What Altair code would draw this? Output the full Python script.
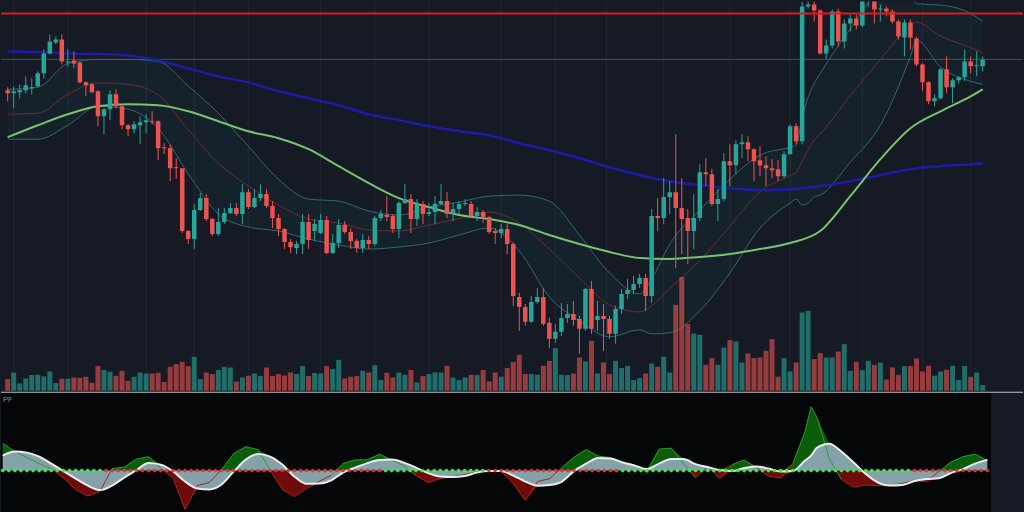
import altair as alt
import pandas as pd

# ---------------- candle data (arbitrary price units) ----------------
open_ = [311,308,309,311,313,315,328,348,359,362, 339,341,339,319,317,310,285,292,307,295,
         276,272,276,279,280,280,254,253,234,233, 170,162,191,203,182,167,179,188,193,187,
         209,194,203,207,195,183,172,159,153,157, 179,170,168,181,148,158,176,169,160,153,
         161,157,183,186,185,172,198,202,182,197, 187,189,197,200,187,192,197,197,185,189,
         184,170,168,172,157,104,94,79,99,104, 78,62,69,83,87,82,72,112,81,85,
         82,67,92,107,111,117,123,105,185,183, 204,209,193,183,170,183,229,227,197,202,
         240,236,257,259,252,241,236,233,232,225, 247,275,260,395,397,391,348,356,390,360,
         378,383,376,401,404,392,393,390,380,364, 379,363,337,319,300,303,332,314,321,324,
         340,335,335]
high_ = [314,315,317,325,323,330,352,367,365,367, 352,350,340,320,318,311,293,311,312,297,
         277,280,285,287,290,281,258,257,243,233, 171,197,208,207,183,193,193,198,198,217,
         212,212,217,212,200,187,173,162,160,187, 187,182,187,185,167,182,180,173,162,167,
         165,185,191,205,187,200,217,207,202,200, 198,205,217,209,198,200,202,200,194,191,
         185,173,177,177,159,108,97,105,113,113, 83,77,98,97,100,85,113,120,100,97,
         85,95,112,122,125,127,127,192,203,223, 220,267,223,192,207,237,243,232,212,248,
         257,261,267,265,253,255,245,242,241,250, 277,278,400,403,402,392,362,392,393,382,
         387,387,408,410,408,397,395,392,382,382, 382,365,338,320,307,333,345,323,325,352,
         345,350,345]
low_ = [300,293,303,308,307,314,323,347,357,337, 335,333,318,305,308,275,267,281,293,272,
        265,268,257,268,277,241,247,220,222,168, 157,152,190,180,165,165,177,187,185,177,
        192,193,200,193,173,165,152,148,147,147, 152,160,167,147,147,153,167,152,148,148,
        152,155,180,180,168,163,197,168,175,177, 185,177,196,183,180,187,195,183,180,178,
        167,157,163,147,95,70,75,78,97,75, 53,58,65,78,75,47,70,67,70,50,
        62,57,87,102,107,113,90,98,170,177, 187,133,147,137,152,180,215,195,180,200,
        215,227,243,240,220,225,215,223,220,223, 247,257,257,393,380,347,342,353,355,353,
        370,372,374,395,378,380,385,378,362,345, 352,335,310,297,295,302,308,298,318,320,
        328,325,330]
close_ = [308,310,311,316,314,328,348,360,362,340, 340,338,319,316,309,285,292,307,295,276,
          272,277,279,281,279,253,253,233,233,170, 162,191,203,182,167,179,188,193,187,209,
          194,203,207,195,183,172,159,154,157,179, 161,177,181,148,158,176,169,160,153,161,
          157,183,187,184,172,198,202,182,197,187, 189,197,200,187,192,197,198,185,189,183,
          169,168,172,157,105,94,79,99,104,77, 62,69,83,87,81,72,112,72,85,82,
          67,92,107,111,117,123,105,185,183,204, 209,193,182,170,183,229,227,197,202,240,
          236,257,259,252,240,236,233,231,225,247, 275,260,395,397,391,348,356,390,360,378,
          383,376,405,406,392,393,390,380,365,379, 364,337,319,300,303,332,314,321,324,340,
          335,336,342]
volume = [11.7,18.3,7.3,12.3,15.7,16,14.3,19.3,7.7,12, 12,13.3,13,14,8,24.7,20.7,19,15,20,
          10,14,18.3,17.3,17.3,18,8.7,24,26.7,29, 24.7,34,11.7,18.3,16.7,20.7,24,23.3,9.3,13.3,
          15,17.3,14.7,23.3,14.7,16.7,15.3,18.3,16.7,24.7, 14.7,17.7,17.3,24.7,21.7,31,12.3,14,14.7,20,
          18.3,25.7,10.7,18,13.3,18.3,16,20.7,8.3,14.7, 16.7,18.3,18.3,25,13.3,10.7,13.3,16,15.7,20.7,
          9.3,18.3,14,22.7,29,36,16.7,16.7,16,25, 30,42.7,16,15.7,17.3,33.3,29.3,50,17.3,28.3,
          16.7,30,22.7,25,10.7,12.7,17.3,27.3,24,34, 18.3,86,114,66.7,57.3,56,26,32.7,26,43.3,
          50.7,49.3,28.3,37.3,32.7,33.3,40,51.7,14,32.7, 19.3,28.3,78.3,80,31.7,37.7,33.3,33.3,39.3,46.7,
          20,29,20.7,30,26,28.3,11.3,23.3,16,24.7, 24.7,32.3,19.3,25,15,19.3,21,25,10.7,24.7,
          14,18.3,5.7]

# ---------------- indicator key points ----------------
bb_idx = [0,5,10,15,20,25,30,35,40,45,50,55,60,65,70,75,80,85,90,95,
          100,105,107,110,115,120,125,130,131,132,133,134,135,140,145,150,151,155,160,162]
bb_upper = [312,314,338,342,342,340,315.4,288,255,222, 202,200,190,186,194,199,205,206,200,166,
            128,107,122,157,191,222,246,254,256,284, 304,318,328,372.5,408,406,397.7,396.4,388,380]
bb_mid = [287,288,307,318.5,317,306.4,271.4,238,215,196, 182,178,171,170,176,182.5,189,178,152,123,
          96.3,89,95,112.3,140.5,174.7,209.4,225.7,229,239.7, 251,261.4,267.4,305.6,342,375.4,379.25,365.4,353.75,348.6]
bb_lower = [262,262,276,295,292,273,227.4,187,174,170, 162,156,152,154,158,166,173,150,104,80,
            64,71,67,68,90,128,173,198,202,196, 198,204,206,239,276,345,361,334.4,320,317]

ma_idx = [0,5,10,15,20,25,30,35,40,45,50,55,60,65,70,75,80,85,90,95,
          100,105,110,115,120,125,130,135,140,145,150,155,160,162]
ma_green = [264,276,287,295,297,296,290,280,270,263, 252,235,218,203,194,186,182,176,166,157,
            149,143,142,144,147,152,158,170,205,242, 273,290,305,312]
ma_blue = [350,349.5,348,347.5,346,341,333,325,319,310, 303,296,287,281,275,270,266,258,251,243,
           234,226,220,216,213,211,212,215,220,226, 232,235,237,238]

resistance_level = [388]
last_price_level = [342]
time_grid = [1,10,23,31,40,52,61,70,82,91,99.5,109,120,130,142,152,160]

# ---------------- oscillator ----------------
osc_idx = list(range(0, 133, 2)) + [133] + list(range(134, 163, 2))
osc_slow = [15,19,18,14,7,-0.5,-8,-15,-19.5,-15, -7,0.5,7.5,6,-0.5,-11,-18,-19,-14,-1,
            11,16.5,14,6,-6,-13.3,-13,-10,-2,3, 7.5,10.5,11,8,3,-2.5,-6,-6.5,-5.5,-2,
            -0.5,-0.5,-5,-11,-15.2,-14.5,-11,-0.5,7,12.5, 12,8,5,1.5,7,11.5,11.5,6.5,3.5,0.5,
            -0.5,2.5,4.2,2,-1,-0.5,10, 15,
            23,27,19,8,-3.5,-12,-15,-14.5,-10.5,-8.5,-7.7,-2.5,1.5,7,10.7]
osc_fast = [27.3,19,13,7,2,-7.5,-19,-25.5,-21,2, 3.5,11.5,14,2,-7,-39,-15,-12,1,17,
            24,21,0.5,-19,-26,-18,-11,-5,7,10.7, 10.8,16.5,10.5,5,-5,-12,-8,-6,-4,-1,
            -0.5,-0.5,-13,-30,-11,-8,3,13.5,21,14.5, 13,9,5.5,-2,21.5,22.5,7,-7,4,-8,
            6,10.5,3,-5.5,-7.5,7,39, 64,
            53,12,-9,-16.5,-14.5,-15,-15,-13,-10,-11,-1,8.5,14,16.5,10]
dot_green_start = [0, 63, 102]
dot_green_end = [16, 79, 149]

# ---------------- styling ----------------
TEAL = "#26a69a"
RED = "#ef5350"
BG = "#161a25"
W = 1024
H_MAIN = 390
H_OSC = 122

candles = pd.DataFrame({"i": range(len(close_)), "open": open_, "high": high_,
                        "low": low_, "close": close_, "vol": volume})
bb = pd.DataFrame({"i": bb_idx, "upper": bb_upper, "mid": bb_mid, "lower": bb_lower})
ma = pd.DataFrame({"i": ma_idx, "green": ma_green, "blue": ma_blue})

xs = alt.Scale(domain=[-0.28, 167.87], nice=False, zero=False)
ps = alt.Scale(domain=[10, 400], nice=False, zero=False)
X = lambda f="i": alt.X(f"{f}:Q", scale=xs, axis=None)
Y = lambda f: alt.Y(f"{f}:Q", scale=ps, axis=None)
up_color = alt.condition("datum.close >= datum.open", alt.value(TEAL), alt.value(RED))

grid = alt.Chart(pd.DataFrame({"i": time_grid})).mark_rule(color="#222633", strokeWidth=1).encode(x=X())
bbfill = alt.Chart(bb).mark_area(color=TEAL, opacity=0.06, interpolate="monotone", clip=True).encode(
    x=X(), y=Y("upper"), y2="lower:Q")
bbu = alt.Chart(bb).mark_line(color="#2a6d70", strokeWidth=1, interpolate="monotone", clip=True).encode(x=X(), y=Y("upper"))
bbl = alt.Chart(bb).mark_line(color="#2a6d70", strokeWidth=1, interpolate="monotone", clip=True).encode(x=X(), y=Y("lower"))
bbm = alt.Chart(bb).mark_line(color="#6e2b31", strokeWidth=1, interpolate="monotone", clip=True).encode(x=X(), y=Y("mid"))
blue = alt.Chart(ma).mark_line(color="#1c1ca8", strokeWidth=2.5, interpolate="monotone", clip=True).encode(x=X(), y=Y("blue"))
green = alt.Chart(ma).mark_line(color="#78c46e", strokeWidth=2, interpolate="monotone", clip=True).encode(x=X(), y=Y("green"))
lastp = alt.Chart(pd.DataFrame({"p": last_price_level})).mark_rule(color="#464a55", strokeWidth=1).encode(y=Y("p"))
wicks = alt.Chart(candles).mark_rule(strokeWidth=1, clip=True).encode(x=X(), y=Y("low"), y2="high:Q", color=up_color)
bodies = alt.Chart(candles).mark_bar(size=4.5, clip=True).encode(x=X(), y=Y("open"), y2="close:Q", color=up_color)
resist = alt.Chart(pd.DataFrame({"p": resistance_level})).mark_rule(color="#e01b1b", strokeWidth=2).encode(y=Y("p"))

price_layer = alt.layer(grid, lastp, bbfill, bbu, bbl, bbm, blue, green, wicks, bodies, resist)
vol_layer = alt.Chart(candles).mark_bar(size=5, opacity=0.6).encode(
    x=X(), y=alt.Y("vol:Q", scale=alt.Scale(domain=[0, 390], nice=False, zero=True), axis=None),
    color=up_color)

main = alt.layer(price_layer, vol_layer).resolve_scale(y="independent").properties(
    width=W, height=H_MAIN, view=alt.ViewBackground(fill=BG, strokeWidth=0))

# oscillator panel
osc = pd.DataFrame({"i": osc_idx, "fast": osc_fast, "slow": osc_slow})
osc["gtop"] = osc[["fast", "slow"]].max(axis=1)
osc["rbot"] = osc[["fast", "slow"]].min(axis=1)
seg = pd.DataFrame({"i": osc["i"][:-1].values, "i2": osc["i"][1:].values,
                    "f1": osc["fast"][:-1].values, "f2": osc["fast"][1:].values})
seg["pos"] = (seg["f1"] + seg["f2"]) >= 0
dot_i = list(range(len(close_)))
dot_g = [any(s <= k <= e for s, e in zip(dot_green_start, dot_green_end)) for k in dot_i]
dots = pd.DataFrame({"i": dot_i, "g": dot_g})

os_ = alt.Scale(domain=[-43, 79], nice=False, zero=False)
OY = lambda f: alt.Y(f"{f}:Q", scale=os_, axis=None)

blackbg = alt.Chart(pd.DataFrame({"a": [0]})).mark_rect(color="#050607").encode(
    x=alt.value(0), x2=alt.value(992), y=alt.value(0), y2=alt.value(H_OSC))
sep = alt.Chart(pd.DataFrame({"a": [0]})).mark_rule(color="#c4c6cc", strokeWidth=1).encode(
    y=alt.value(0.5))
garea = alt.Chart(osc).mark_area(color="#0b5c0b", clip=True).encode(x=X(), y=OY("gtop"), y2="slow:Q")
rarea = alt.Chart(osc).mark_area(color="#6e0b0b", clip=True).encode(x=X(), y=OY("rbot"), y2="slow:Q")
sarea = alt.Chart(osc).mark_area(color="#84a2a9", interpolate="monotone", clip=True).encode(
    x=X(), y=OY("slow"), y2=alt.datum(0))
fline = alt.Chart(seg).mark_rule(strokeWidth=1, clip=True).encode(
    x=X(), x2="i2:Q", y=OY("f1"), y2="f2:Q",
    color=alt.condition("datum.pos", alt.value("#2e9a2e"), alt.value("#a82222")))
sline = alt.Chart(osc).mark_line(color="#ececec", strokeWidth=2, interpolate="monotone", clip=True).encode(
    x=X(), y=OY("slow"))
zdots = alt.Chart(dots).mark_circle(size=13, opacity=1).encode(
    x=X(), y=alt.datum(0, scale=os_),
    color=alt.condition("datum.g", alt.value("#37f237"), alt.value("#f03030")))
label = alt.Chart(pd.DataFrame({"t": ["PF"]})).mark_text(
    align="left", baseline="top", fontSize=8, color="#8a8e99", font="Roboto").encode(
    x=alt.value(2), y=alt.value(4), text="t:N")

oscc = alt.layer(blackbg, garea, rarea, sarea, fline, sline, zdots, sep, label).properties(
    width=W, height=H_OSC, view=alt.ViewBackground(fill="#181c27", strokeWidth=0))

chart = alt.vconcat(main, oscc, spacing=0).properties(
    padding=0, background=BG).configure_view(strokeWidth=0)
chart.save("out.html", embed_options={"renderer": "svg", "actions": False})
